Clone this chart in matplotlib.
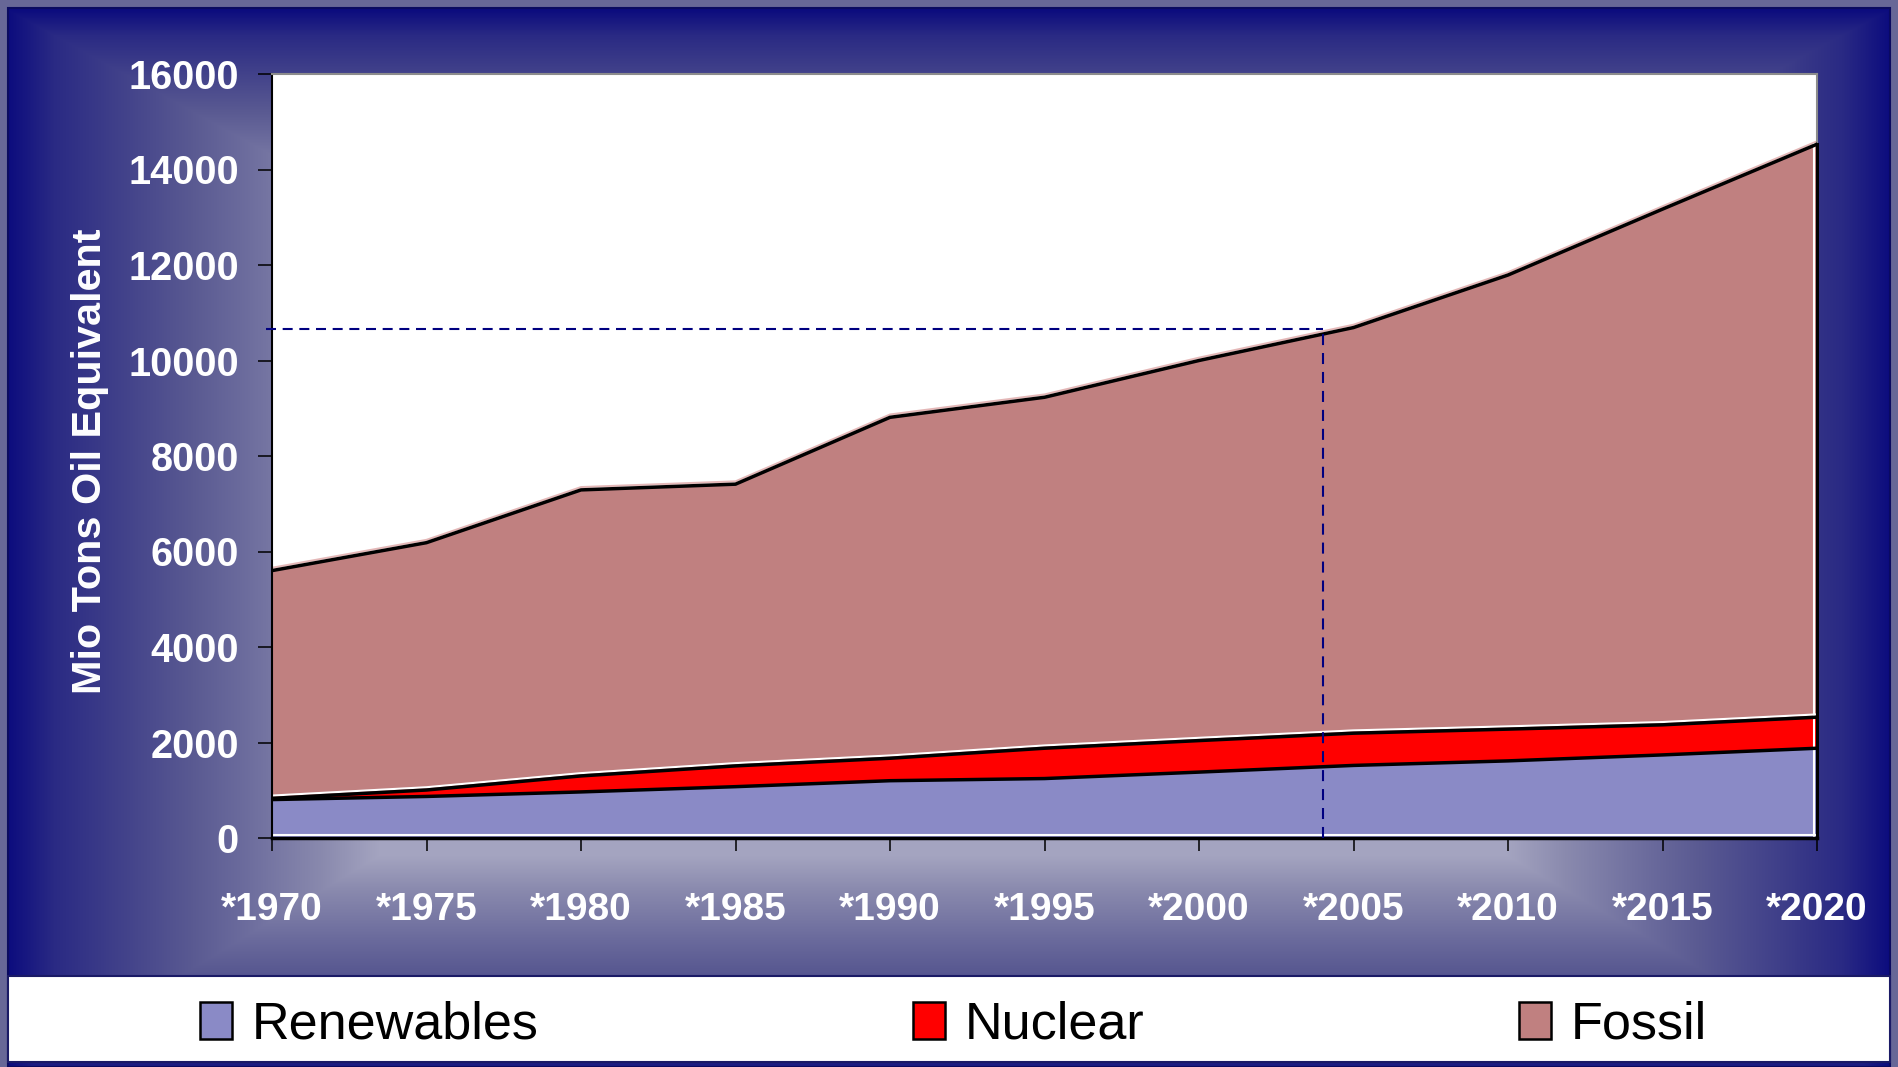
import numpy as np
import matplotlib
matplotlib.use("Agg")
import matplotlib.pyplot as plt
from matplotlib import transforms
from matplotlib.patches import Rectangle, Patch
from matplotlib.colors import to_rgb

plt.rcParams["font.family"] = ["Liberation Sans", "DejaVu Sans"]

# ---- data (Mio tons oil equivalent) ----
years = [1970, 1975, 1980, 1985, 1990, 1995, 2000, 2005, 2010, 2015, 2020]
year_labels = ["*1970", "*1975", "*1980", "*1985", "*1990", "*1995",
               "*2000", "*2005", "*2010", "*2015", "*2020"]
renewables = [805, 870, 965, 1075, 1200, 1245, 1380, 1520, 1615, 1740, 1880]
nuclear = [25, 135, 335, 435, 470, 635, 660, 675, 665, 630, 650]
fossil = [4770, 5180, 5990, 5900, 7140, 7350, 7960, 8495, 9510, 10800, 12000]
series_names = ["Renewables", "Nuclear", "Fossil"]
series_colors = ["#8a8ac6", "#ff0000", "#c08080"]
y_ticks = [0, 2000, 4000, 6000, 8000, 10000, 12000, 14000, 16000]
ref_year = 2004
ref_level = 10650

W, H = 1898, 1067
fig = plt.figure(figsize=(W / 100, H / 100), dpi=100, facecolor="#676797")

# ---- slide background: rectangular gradient, light centre, navy rim ----
bg = fig.add_axes([0, 0, 1, 1], zorder=-10)
bg.set_xlim(0, W)
bg.set_ylim(H, 0)
bg.axis("off")
x0, x1, y0, y1 = 8, 1890, 8, 1067
cx, cy = 935, 520
xs = np.arange(x0, x1) + 0.5
ys = np.arange(y0, y1) + 0.5
X, Y = np.meshgrid(xs, ys)
tx = np.where(X < cx, (cx - X) / (cx - x0), (X - cx) / (x1 - cx))
ty = np.where(Y < cy, (cy - Y) / (cy - 10), (Y - cy) / 560.0)
t = np.clip(np.maximum(tx, ty), 0, 1)
stops = [0.0, 0.6, 0.66, 0.75, 0.8, 0.9, 0.95, 1.0]
stop_cols = ["#a8a8c2", "#a4a4c0", "#8a8aae", "#6a6a9c", "#5a5a92",
             "#3a3a88", "#2a2a84", "#0c0c7e"]
rgb = np.array([to_rgb(c) for c in stop_cols])
img = np.stack([np.interp(t, stops, rgb[:, k]) for k in range(3)], axis=-1)
bg.imshow(img, extent=(x0, x1, y1, y0), interpolation="bilinear", aspect="auto")
bg.add_patch(Rectangle((x0, y0), x1 - x0, y1 - y0, fill=False,
                       ec="#0a0a60", lw=1.5))
bg.add_patch(Rectangle((8, 976), 1882, 86, fc="white", ec="#1a1a66", lw=1.5))

# ---- chart ----
ax = fig.add_axes([272 / W, 1 - 838 / H, (1817 - 272) / W, (838 - 74) / H])
ax.set_facecolor("white")
ax.stackplot(years, renewables, nuclear, fossil, colors=series_colors,
             linewidth=0, zorder=1)

cum1 = np.array(renewables, dtype=float)
cum2 = cum1 + np.array(nuclear)
cum3 = cum2 + np.array(fossil)

up = transforms.offset_copy(ax.transData, fig=fig, x=0, y=2.8, units="dots")
left = transforms.offset_copy(ax.transData, fig=fig, x=-2.8, y=0, units="dots")
ax.plot(years, cum2, color="white", lw=1.5, transform=up, zorder=2)
ax.plot(years, cum3, color="#e4b8b8", lw=1.5, transform=up, zorder=2)
ax.plot([years[0], years[-1]], [0, 0], color="white", lw=1.5, transform=up, zorder=2)
ax.plot([years[-1], years[-1]], [0, cum3[-1]], color="white", lw=1.5,
        transform=left, zorder=2)
for c in (cum1, cum2, cum3):
    ax.plot(years, c, color="black", lw=2.5, zorder=3)
ax.plot([years[-1], years[-1]], [0, cum3[-1]], color="black", lw=2.2,
        zorder=3, clip_on=False)

# reference guide lines
ax.plot([1969.8, ref_year], [ref_level, ref_level], color="#000080", lw=1.5,
        dashes=(4.8, 3.2), zorder=4, clip_on=False)
ax.plot([ref_year, ref_year], [0, ref_level], color="#000080", lw=1.5,
        dashes=(5.3, 3.8), zorder=4)

ax.set_xlim(years[0], years[-1])
ax.set_ylim(y_ticks[0], y_ticks[-1])
ax.set_xticks(years, labels=year_labels, fontweight="bold")
ax.set_yticks(y_ticks, labels=[str(v) for v in y_ticks], fontweight="bold")
ax.tick_params(axis="x", length=9.5, width=1.1, color="black", pad=29.5,
               labelsize=28, labelcolor="white", direction="out")
ax.tick_params(axis="y", length=10, width=1.1, color="black", pad=14,
               labelsize=28.5, labelcolor="white", direction="out")
for side in ("top", "right"):
    ax.spines[side].set_color("#8c8c8c")
    ax.spines[side].set_linewidth(1.5)
ax.spines["left"].set_color("black")
ax.spines["left"].set_linewidth(1.5)
ax.spines["bottom"].set_color("black")
ax.spines["bottom"].set_linewidth(2.5)

fig.text(90 / W, 1 - 461 / H, "Mio Tons Oil Equivalent", rotation=90,
         ha="center", va="center", color="white", fontsize=29.8,
         fontweight="bold")

handles = [Patch(fc=c, ec="black", lw=1.8) for c in series_colors]
fig.legend(handles, series_names, loc="center left",
           bbox_to_anchor=(200 / W, 1 - 1025 / H), ncol=3, frameon=False,
           prop={"family": "Liberation Sans", "size": 37.5},
           handlelength=0.62, handleheight=0.71, handletextpad=0.38,
           columnspacing=7.18, borderpad=0, borderaxespad=0)

fig.savefig("out.png", dpi=100, facecolor=fig.get_facecolor())
